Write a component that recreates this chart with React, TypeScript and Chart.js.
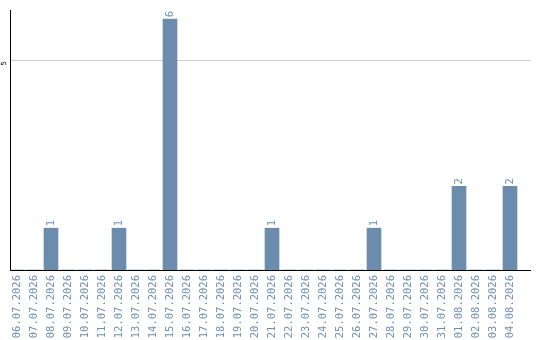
import React, { useEffect, useRef } from "react";
import { Chart, registerables } from "chart.js";

Chart.register(...registerables);

// Daily counts from 06.07.2026 to 04.08.2026
const dates: string[] = [
  "06.07.2026", "07.07.2026", "08.07.2026", "09.07.2026", "10.07.2026",
  "11.07.2026", "12.07.2026", "13.07.2026", "14.07.2026", "15.07.2026",
  "16.07.2026", "17.07.2026", "18.07.2026", "19.07.2026", "20.07.2026",
  "21.07.2026", "22.07.2026", "23.07.2026", "24.07.2026", "25.07.2026",
  "26.07.2026", "27.07.2026", "28.07.2026", "29.07.2026", "30.07.2026",
  "31.07.2026", "01.08.2026", "02.08.2026", "03.08.2026", "04.08.2026",
];
const counts: number[] = [
  0, 0, 1, 0, 0,
  0, 1, 0, 0, 6,
  0, 0, 0, 0, 0,
  1, 0, 0, 0, 0,
  0, 1, 0, 0, 0,
  0, 2, 0, 0, 2,
];
const yTicks: number[] = [5];

const BAR_COLOR = "#6b8cad";
const LABEL_COLOR = "#6f8fb1";
const MONO = "'DejaVu Sans Mono', monospace";

// Writes each non-zero count vertically above its bar
const valueLabels = {
  id: "valueLabels",
  afterDatasetsDraw(chart: any) {
    const { ctx } = chart;
    const meta = chart.getDatasetMeta(0);
    ctx.save();
    ctx.fillStyle = LABEL_COLOR;
    ctx.font = `10.5px ${MONO}`;
    ctx.textAlign = "left";
    ctx.textBaseline = "middle";
    meta.data.forEach((bar: any, i: number) => {
      const v = counts[i];
      if (!v) return;
      ctx.save();
      ctx.translate(bar.x, bar.y - 2);
      ctx.rotate(-Math.PI / 2);
      ctx.fillText(String(v), 0, 0);
      ctx.restore();
    });
    ctx.restore();
  },
};

export default function App() {
  const canvasRef = useRef<HTMLCanvasElement | null>(null);

  useEffect(() => {
    const canvas = canvasRef.current;
    if (!canvas) return;
    const chart = new Chart(canvas, {
      type: "bar",
      data: {
        datasets: [
          {
            data: counts.map((v, i) => ({ x: i, y: v })),
            backgroundColor: BAR_COLOR,
            barThickness: 14,
          },
        ],
      },
      plugins: [valueLabels],
      options: {
        animation: false,
        responsive: false,
        layout: { padding: { top: 10, right: 10, left: 0, bottom: 0 } },
        plugins: {
          legend: { display: false },
          tooltip: { enabled: false },
        },
        scales: {
          x: {
            type: "linear",
            offset: false,
            min: -0.412,
            max: 30.176,
            afterBuildTicks: (scale: any) => {
              scale.ticks = dates.map((_, i) => ({ value: i }));
            },
            afterFit: (scale: any) => {
              scale.height = 70;
              scale.paddingLeft = 0;
              scale.paddingRight = 0;
            },
            grid: { display: false, drawTicks: false, offset: false },
            border: { display: true, color: "#000", width: 1 },
            ticks: {
              autoSkip: false,
              minRotation: 90,
              maxRotation: 90,
              padding: 5,
              color: LABEL_COLOR,
              font: { family: MONO, size: 10.5 },
              callback: (v: any) => dates[v as number] ?? "",
            },
          },
          y: {
            min: 0,
            max: 6.22,
            afterBuildTicks: (scale: any) => {
              scale.ticks = yTicks.map((v) => ({ value: v }));
            },
            afterFit: (scale: any) => {
              scale.width = 10;
              scale.paddingTop = 0;
              scale.paddingBottom = 0;
            },
            grid: { color: "#cccccc", lineWidth: 1, drawTicks: false },
            border: { display: true, color: "#000", width: 1 },
            ticks: {
              minRotation: 90,
              maxRotation: 90,
              padding: 6,
              color: "#000",
              font: { family: "'DejaVu Sans'", size: 7 },
            },
          },
        },
      },
    });
    return () => chart.destroy();
  }, []);

  return (
    <div style={{ position: "fixed", left: 0, top: 0, width: 540, height: 340, background: "#fff" }}>
      <canvas ref={canvasRef} width={540} height={340} />
    </div>
  );
}
